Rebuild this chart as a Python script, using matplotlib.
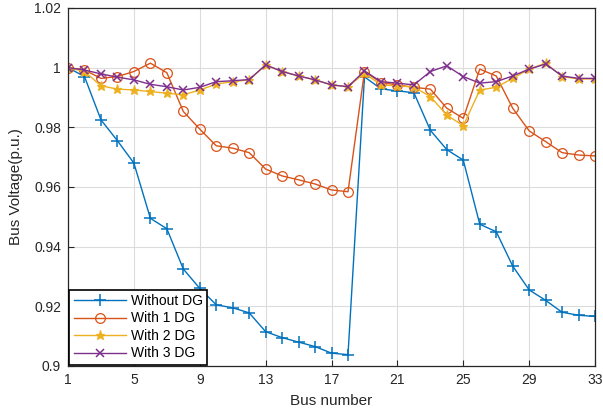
import matplotlib
matplotlib.use("Agg")
import matplotlib.pyplot as plt
import numpy as np

plt.rcParams['font.family'] = ['Liberation Sans', 'DejaVu Sans']

# bus voltage profile (p.u.), 33-bus system
bus = np.arange(1, 34)

v_base = [1.0, 0.9970, 0.9825, 0.9755, 0.9680, 0.9495, 0.9460, 0.9325, 0.9260,
          0.9205, 0.9195, 0.9178, 0.9115, 0.9095, 0.9080, 0.9065, 0.9043, 0.9038,
          0.9969, 0.9929, 0.9922, 0.9916, 0.9790, 0.9725, 0.9690, 0.9475, 0.9450,
          0.9335, 0.9255, 0.9220, 0.9180, 0.9170, 0.9166]
v_dg1 = [1.0, 0.9992, 0.9964, 0.9970, 0.9987, 1.0015, 0.9983, 0.9853, 0.9794,
         0.9738, 0.9730, 0.9715, 0.9660, 0.9637, 0.9624, 0.9610, 0.9590, 0.9584,
         0.9987, 0.9950, 0.9942, 0.9934, 0.9928, 0.9864, 0.9830, 0.9995, 0.9972,
         0.9864, 0.9788, 0.9752, 0.9715, 0.9707, 0.9704]
v_dg2 = [1.0, 0.9987, 0.9939, 0.9928, 0.9925, 0.9920, 0.9914, 0.9909, 0.9925,
         0.9945, 0.9953, 0.9959, 1.0009, 0.9987, 0.9972, 0.9959, 0.9942, 0.9936,
         0.9981, 0.9942, 0.9939, 0.9935, 0.9903, 0.9841, 0.9805, 0.9925, 0.9934,
         0.9964, 0.9995, 1.0015, 0.9970, 0.9962, 0.9962]
v_dg3 = [1.0, 0.9992, 0.9979, 0.9968, 0.9959, 0.9944, 0.9936, 0.9925, 0.9934,
         0.9953, 0.9956, 0.9960, 1.0009, 0.9987, 0.9972, 0.9959, 0.9942, 0.9936,
         0.9989, 0.9953, 0.9948, 0.9942, 0.9987, 1.0006, 0.9970, 0.9948, 0.9953,
         0.9972, 0.9995, 1.0012, 0.9972, 0.9964, 0.9964]

xticks = [1, 5, 9, 13, 17, 21, 25, 29, 33]
yticks = [0.9, 0.92, 0.94, 0.96, 0.98, 1.0, 1.02]
ytick_labels = ['0.9', '0.92', '0.94', '0.96', '0.98', '1', '1.02']

fig = plt.figure(figsize=(6.03, 4.12), dpi=100)
ax = fig.add_axes([0.1128, 0.1117, 0.874, 0.869])

ax.plot(bus, v_base, '-+', color='#0072BD', lw=1.0, ms=8, mew=1.1, label='Without DG')
ax.plot(bus, v_dg1, '-o', color='#D95319', lw=1.0, ms=7, mfc='none', mew=0.9, label='With 1 DG')
ax.plot(bus, v_dg2, '-*', color='#EDB120', lw=1.0, ms=6.5, mew=0.9, label='With 2 DG')
ax.plot(bus, v_dg3, '-x', color='#7E2F8E', lw=1.0, ms=5.5, mew=1.1, label='With 3 DG')

ax.set_xlim(1, 33)
ax.set_ylim(0.9, 1.02)
ax.set_xticks(xticks)
ax.set_yticks(yticks)
ax.set_yticklabels(ytick_labels)
ax.grid(True, color='#dcdcdc', lw=0.8)
ax.set_axisbelow(True)
ax.tick_params(direction='in', labelsize=10, colors='#262626', length=4, pad=5)
for s in ax.spines.values():
    s.set_color('#262626')
    s.set_linewidth(0.9)

ax.set_xlabel('Bus number', fontsize=11, color='#262626', labelpad=5)
ax.set_ylabel('Bus Voltage(p.u.)', fontsize=11, color='#262626', labelpad=8)

leg = ax.legend(loc='lower left', fontsize=10, fancybox=False, framealpha=1,
                edgecolor='black', borderaxespad=0.1, handlelength=3.8,
                labelspacing=0.25, borderpad=0.3, handletextpad=0.3)
leg.get_frame().set_linewidth(1.2)

fig.savefig('out.png', dpi=100)
